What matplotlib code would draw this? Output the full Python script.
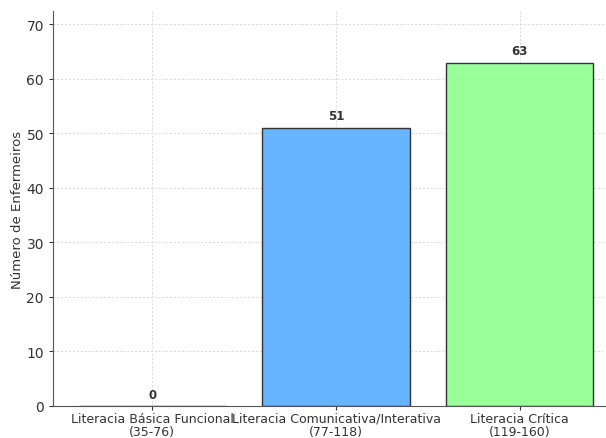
import matplotlib
matplotlib.use("Agg")
import matplotlib.pyplot as plt

categories = ["Literacia Básica Funcional\n(35-76)",
              "Literacia Comunicativa/Interativa\n(77-118)",
              "Literacia Crítica\n(119-160)"]
values = [0, 51, 63]
colors = ["#ff9999", "#66b3ff", "#99ff99"]
ylabel = "Número de Enfermeiros"

fig = plt.figure(figsize=(6.06, 4.39), dpi=100)
ax = fig.add_axes([53/606, 1 - 407/439, 566/606, 395/439])
x = list(range(len(categories)))
bars = ax.bar(x, values, width=0.8, color=colors, edgecolor="#333333", linewidth=1.0, zorder=2)
for xi, v in zip(x, values):
    ax.text(xi, v + 1.0, str(v), ha="center", va="bottom", fontsize=8.5,
            fontweight="bold", color="#333333")
ax.set_xticks(x)
ax.set_xticklabels(categories, fontsize=9, color="#333333", linespacing=1.0)
ax.set_ylabel(ylabel, fontsize=9.5, color="#333333", labelpad=2)
ax.set_ylim(0, 72.45)
ax.set_xlim(-0.54, 2.54)
ax.set_yticks([0, 10, 20, 30, 40, 50, 60, 70])
ax.tick_params(axis="y", labelsize=10, colors="#333333", length=3)
ax.tick_params(axis="x", length=3, colors="#333333", pad=1)
ax.grid(True, linestyle=(0, (2, 2)), color="#d8d8d8", linewidth=0.7, zorder=0)
ax.set_axisbelow(True)
for s in ["top", "right"]:
    ax.spines[s].set_visible(False)
for s in ["left", "bottom"]:
    ax.spines[s].set_color("#555555")
fig.savefig("out.png", dpi=100)
